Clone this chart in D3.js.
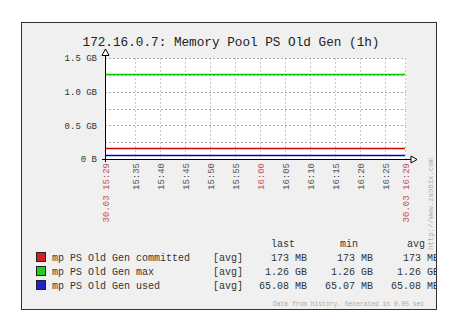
<!DOCTYPE html>
<html>
<head>
<meta charset="utf-8">
<script src="https://cdn.jsdelivr.net/npm/d3@7"></script>
<style>
  body { margin: 0; background: #fff; }
  svg text { font-family: "Liberation Mono", "DejaVu Sans Mono", monospace; }
</style>
</head>
<body>
<svg id="chart" width="460" height="320"></svg>
<script>
// chart data
var title = "172.16.0.7: Memory Pool PS Old Gen (1h)";
var seriesNames = ["mp PS Old Gen committed", "mp PS Old Gen max", "mp PS Old Gen used"];
var seriesColors = ["#cc0000", "#00cc00", "#0000cc"];
var legendFill = ["#cc2222", "#22cc22", "#2222cc"];
var timePoints = ["15:29", "16:29"];
var committedGB = [0.169, 0.169];
var maxGB = [1.26, 1.26];
var usedGB = [0.0636, 0.0636];
var yTicks = [0, 0.5, 1.0, 1.5];
var yTickLabels = ["0 B", "0.5 GB", "1.0 GB", "1.5 GB"];
var yGrid = [0.25, 0.5, 0.75, 1.0, 1.25, 1.5];
var xTicks = ["15:29", "15:35", "15:40", "15:45", "15:50", "15:55", "16:00", "16:05", "16:10", "16:15", "16:20", "16:25", "16:29"];
var xTickLabels = ["30.03 15:29", "15:35", "15:40", "15:45", "15:50", "15:55", "16:00", "16:05", "16:10", "16:15", "16:20", "16:25", "30.03 16:29"];
var redTicks = ["15:29", "16:00", "16:29"];
var lastVals = ["173 MB", "1.26 GB", "65.08 MB"];
var minVals = ["173 MB", "1.26 GB", "65.07 MB"];
var avgVals = ["173 MB", "1.26 GB", "65.08 MB"];

var parseT = d3.timeParse("%H:%M");
var svg = d3.select("#chart");

// frame
svg.append("rect").attr("x", 21.5).attr("y", 22.5).attr("width", 415).attr("height", 287)
    .attr("fill", "#f0f0f0").attr("stroke", "#333").attr("stroke-width", 1);

var x = d3.scaleTime()
    .domain([parseT("15:29"), parseT("16:29")])
    .range([105, 405]);
var y = d3.scaleLinear()
    .domain([0, 1.5])
    .range([159, 58]);

// plot area
svg.append("rect").attr("x", 105).attr("y", 58).attr("width", 301).attr("height", 101).attr("fill", "#fff");

svg.append("text").attr("x", 231).attr("y", 46).attr("text-anchor", "middle")
    .attr("font-size", 12.7).attr("fill", "#222").text(title);

var grid = svg.append("g").attr("stroke-dasharray", "2,2").attr("shape-rendering", "crispEdges");
// vertical grid
grid.selectAll("line.v")
    .data(xTicks.slice(1))
    .enter().append("line").attr("class", "v")
    .attr("x1", function (d) { return Math.round(x(parseT(d))) + 0.5; })
    .attr("x2", function (d) { return Math.round(x(parseT(d))) + 0.5; })
    .attr("y1", 58).attr("y2", 159)
    .attr("stroke", "#c8c8c8");
// horizontal grid
grid.selectAll("line.h")
    .data(yGrid)
    .enter().append("line").attr("class", "h")
    .attr("x1", 105).attr("x2", 406)
    .attr("y1", function (d) { return Math.round(y(d)) + 0.5; })
    .attr("y2", function (d) { return Math.round(y(d)) + 0.5; })
    .attr("stroke", "#aaa");

// series lines
var allSeries = [committedGB, maxGB, usedGB];
var seriesG = svg.append("g");
allSeries.forEach(function (vals, i) {
    var pts = timePoints.map(function (t, j) { return { t: parseT(t), v: vals[j] }; });
    var line = d3.line()
        .x(function (d) { return x(d.t); })
        .y(function (d) { return Math.round(y(d.v)) + 0.5; });
    seriesG.append("path")
        .attr("d", line(pts))
        .attr("fill", "none")
        .attr("stroke", seriesColors[i])
        .attr("stroke-width", 1.3);
});

// y axis labels
var yAxis = d3.axisLeft(y).tickValues(yTicks).tickSize(0).tickPadding(8)
    .tickFormat(function (d, i) { return yTickLabels[i]; });
var gy = svg.append("g").attr("transform", "translate(105,0)").call(yAxis);
gy.select(".domain").remove();
gy.selectAll("text").attr("font-family", "Liberation Mono").attr("font-size", 9).attr("fill", "#333");

// x axis labels
var xAxis = d3.axisBottom(x).tickValues(xTicks.map(parseT)).tickSize(0)
    .tickFormat(function (d, i) { return xTickLabels[i]; });
var gx = svg.append("g").attr("transform", "translate(0,159)").call(xAxis);
gx.select(".domain").remove();
gx.selectAll("text")
    .attr("font-family", "Liberation Mono").attr("font-size", 9)
    .attr("text-anchor", "end")
    .attr("transform", "rotate(-90)")
    .attr("x", -4).attr("y", 0).attr("dy", "0.35em")
    .attr("fill", function (d, i) { return redTicks.indexOf(xTicks[i]) >= 0 ? "#c05555" : "#555"; });

// axis lines with arrows
svg.append("line").attr("x1", 105.5).attr("x2", 105.5).attr("y1", 162).attr("y2", 55)
    .attr("stroke", "#000");
svg.append("line").attr("x1", 102).attr("x2", 411).attr("y1", 159.5).attr("y2", 159.5)
    .attr("stroke", "#000");
svg.append("path").attr("d", "M105.5,49 L109,55.5 L102,55.5 Z").attr("fill", "#fff").attr("stroke", "#000");
svg.append("path").attr("d", "M417,159.5 L411,156 L411,163 Z").attr("fill", "#fff").attr("stroke", "#000");

// zabbix url
svg.append("text").attr("transform", "translate(433,158) rotate(-90)")
    .attr("text-anchor", "end").attr("font-size", 7.3).attr("fill", "#aaa")
    .text("http://www.zabbix.com");

// legend
var legend = svg.append("g");
legend.selectAll("rect")
    .data(seriesNames)
    .enter().append("rect")
    .attr("x", 36.5).attr("y", function (d, i) { return 252.5 + i * 14; })
    .attr("width", 9).attr("height", 9)
    .attr("fill", function (d, i) { return legendFill[i]; })
    .attr("stroke", "#222");
legend.selectAll("text.name")
    .data(seriesNames)
    .enter().append("text").attr("class", "name")
    .attr("x", 52).attr("y", function (d, i) { return 261 + i * 14; })
    .attr("font-size", 10).attr("fill", "#333").text(function (d) { return d; });
legend.selectAll("text.avg")
    .data(seriesNames)
    .enter().append("text").attr("class", "avg")
    .attr("x", 213).attr("y", function (d, i) { return 261 + i * 14; })
    .attr("font-size", 10).attr("fill", "#333").text("[avg]");

var headers = [["last", 271], ["min", 340], ["avg", 407]];
headers.forEach(function (h) {
    legend.append("text").attr("x", h[1]).attr("y", 247).attr("font-size", 10).attr("fill", "#333").text(h[0]);
});
[[lastVals, 307], [minVals, 373], [avgVals, 439]].forEach(function (col) {
    col[0].forEach(function (v, i) {
        legend.append("text").attr("x", col[1]).attr("y", 261 + i * 14)
            .attr("text-anchor", "end").attr("font-size", 10).attr("fill", "#333").text(v);
    });
});

svg.append("text").attr("x", 273).attr("y", 306).attr("font-size", 6.3).attr("fill", "#aaa")
    .text("Data from history. Generated in 0.05 sec");

// redraw the right frame edge over clipped text
svg.append("rect").attr("x", 437).attr("y", 0).attr("width", 23).attr("height", 320).attr("fill", "#fff");
svg.append("line").attr("x1", 436.5).attr("x2", 436.5).attr("y1", 22).attr("y2", 310).attr("stroke", "#333");
</script>
</body>
</html>
